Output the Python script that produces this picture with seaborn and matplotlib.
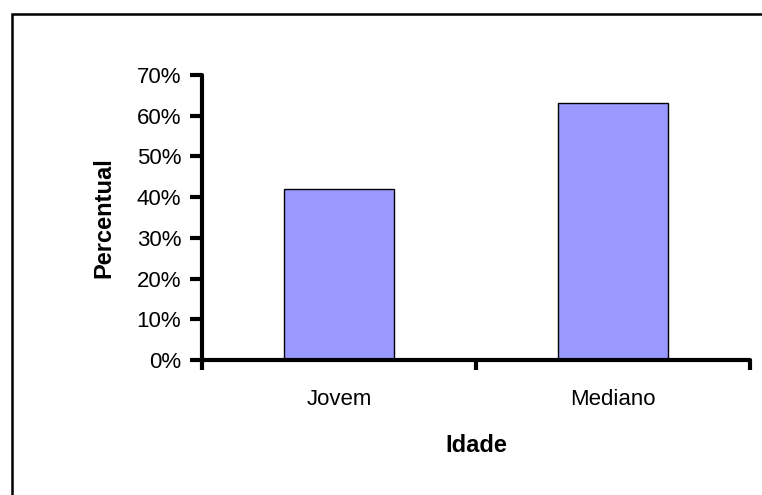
import numpy as np
import matplotlib
matplotlib.use("Agg")
import matplotlib.pyplot as plt
import matplotlib.ticker as mticker
from matplotlib.patches import Rectangle
import seaborn as sns

## dados
categorias = ["Jovem", "Mediano"]
percentuais = [42.0, 63.2]
y_ticks = [0, 10, 20, 30, 40, 50, 60, 70]

sns.set_style("ticks")
plt.rcParams['font.family'] = ['Liberation Sans', 'DejaVu Sans']
plt.rcParams['text.color'] = 'black'
plt.rcParams['axes.labelcolor'] = 'black'
plt.rcParams['xtick.color'] = 'black'
plt.rcParams['ytick.color'] = 'black'
plt.rcParams['axes.edgecolor'] = 'black'

fig = plt.figure(figsize=(7.62, 4.95), dpi=100)
ax = fig.add_axes([0.2651, 0.2727, 0.7192, 0.5758])

sns.barplot(x=categorias, y=percentuais, color="#9999FF", saturation=1,
            width=0.4, edgecolor="black", linewidth=1.0, ax=ax)

ax.set_xlim(-0.5, 1.5)
ax.set_ylim(0, 70)
ax.set_yticks(y_ticks)
ax.yaxis.set_major_formatter(mticker.FuncFormatter(lambda v, p: "%d%%" % v))

# ticks do eixo x ficam entre as categorias
ax.set_xticks([-0.5, 0.5, 1.5], minor=True)
ax.tick_params(axis="x", which="major", length=0, pad=21, labelsize=16)
ax.tick_params(axis="x", which="minor", length=7, width=3, direction="out")
ax.tick_params(axis="y", length=9, width=3, direction="out", pad=6, labelsize=16)

for s in ["left", "bottom"]:
    ax.spines[s].set_linewidth(3)
    ax.spines[s].set_capstyle("round")
sns.despine(ax=ax)

ax.set_xlabel("Idade", fontsize=17, fontweight="bold", labelpad=17)
ax.set_ylabel("Percentual", fontsize=17, fontweight="bold", labelpad=15)

# moldura da figura (so aparecem topo e esquerda)
fig.patches.append(Rectangle((12 / 762, -0.5), 2, 1.5 - 14 / 495,
                             transform=fig.transFigure, fill=False,
                             edgecolor="black", linewidth=1.8))

fig.savefig("out.png", dpi=100, facecolor="white")
